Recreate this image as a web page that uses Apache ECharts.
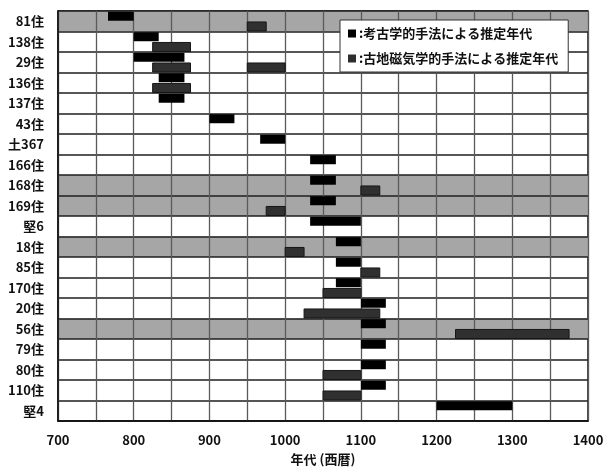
<!DOCTYPE html>
<html>
<head>
<meta charset="utf-8">
<script src="https://cdn.jsdelivr.net/npm/echarts@6/dist/echarts.min.js"></script>
<style>
  html, body { margin: 0; padding: 0; background: #fff; }
  #chart { width: 604px; height: 468px; }
</style>
</head>
<body>
<div id="chart"></div>
<script>
// Dwelling / feature names, top to bottom
const sites = ['81住','138住','29住','136住','137住','43住','土367','166住','168住','169住','堅6','18住','85住','170住','20住','56住','79住','80住','110住','堅4'];

// Rows highlighted with a grey band
const shadedSites = ['81住','168住','169住','18住','56住'];

// Archaeological date ranges (one per site)
const archStart = [766, 800, 800, 833, 833, 900, 967, 1033, 1033, 1033, 1033, 1067, 1067, 1067, 1100, 1100, 1100, 1100, 1100, 1200];
const archEnd   = [800, 833, 867, 867, 867, 933, 1000, 1067, 1067, 1067, 1100, 1100, 1100, 1100, 1133, 1133, 1133, 1133, 1133, 1300];

// Archaeomagnetic date ranges (some sites have none, one has two)
const paleoSite  = ['81住','138住','29住','29住','136住','168住','169住','18住','85住','170住','20住','56住','80住','110住'];
const paleoStart = [950, 825, 825, 950, 825, 1100, 975, 1000, 1100, 1050, 1025, 1225, 1050, 1050];
const paleoEnd   = [975, 875, 875, 1000, 875, 1125, 1000, 1025, 1125, 1100, 1125, 1375, 1100, 1100];

// X axis tick labels
const yearLabels = [700, 800, 900, 1000, 1100, 1200, 1300, 1400];

const nameArch = '考古学的手法による推定年代';
const nameMag = '古地磁気学的手法による推定年代';
const FONT = '"Noto Sans CJK JP", "Noto Sans", sans-serif';

const archData = sites.map((s, i) => [i, archStart[i], archEnd[i]]);
const paleoData = paleoSite.map((s, i) => [sites.indexOf(s), paleoStart[i], paleoEnd[i]]);
// one fill per category band: grey for highlighted rows, clear otherwise
const bandColors = sites.map(s => (shadedSites.indexOf(s) >= 0 ? '#a6a6a6' : 'rgba(255,255,255,0)'));

// Draws a horizontal range inside a fraction [f0, f1] of the category band
function rangeRenderer(f0, f1, style) {
  return function (params, api) {
    const row = api.value(0);
    const a = api.coord([api.value(1), row]);
    const b = api.coord([api.value(2), row]);
    const h = api.size([0, 1])[1];
    const top = a[1] - h / 2;
    return {
      type: 'rect',
      shape: { x: a[0], y: top + h * f0, width: b[0] - a[0], height: h * (f1 - f0) },
      style: style
    };
  };
}

const chart = echarts.init(document.getElementById('chart'), null, { renderer: 'canvas' });

chart.setOption({
  animation: false,
  backgroundColor: '#fff',
  textStyle: { fontFamily: FONT },
  grid: {
    left: 58, right: 16, top: 11, bottom: 47,
    outerBoundsMode: 'none',
    containLabel: false,
    show: true, borderColor: '#111', borderWidth: 1.5, backgroundColor: 'transparent'
  },
  legend: {
    orient: 'vertical',
    left: 340, top: 20,
    backgroundColor: '#fff',
    borderColor: '#333', borderWidth: 1,
    padding: [7, 10, 7, 8],
    itemGap: 12,
    itemWidth: 8, itemHeight: 8,
    selectedMode: false,
    formatter: n => ':' + n,
    textStyle: { fontFamily: FONT, fontSize: 13, fontWeight: 'bold', color: '#111', padding: [0, 0, 0, -2] },
    data: [
      { name: nameArch, icon: 'rect', itemStyle: { color: '#000' } },
      { name: nameMag, icon: 'rect', itemStyle: { color: '#2e2e2e' } }
    ]
  },
  xAxis: {
    type: 'value',
    min: 700, max: 1400, interval: 50,
    axisLine: { show: true, lineStyle: { color: '#111', width: 1.5 } },
    axisTick: { show: false },
    axisLabel: {
      formatter: v => (yearLabels.indexOf(v) >= 0 ? String(v) : ''),
      color: '#111', fontFamily: FONT, fontSize: 13, fontWeight: 'bold', margin: 13
    },
    splitLine: { show: true, lineStyle: { color: '#5a5a5a', width: 1.3 } },
    name: '年代 (西暦)',
    nameLocation: 'middle',
    nameGap: 32,
    nameTextStyle: { color: '#111', fontFamily: FONT, fontSize: 13, fontWeight: 'bold' }
  },
  yAxis: {
    type: 'category',
    data: sites,
    inverse: true,
    axisLine: { show: true, lineStyle: { color: '#111', width: 1.5 } },
    axisTick: { show: false },
    axisLabel: {
      interval: 0, margin: 14,
      color: '#111', fontFamily: FONT, fontSize: 13, fontWeight: 'bold',
      padding: [0, 0, 9, 0]
    },
    splitArea: { show: true, interval: 0, areaStyle: { color: bandColors } },
    splitLine: { show: true, interval: 0, lineStyle: { color: '#1e1e1e', width: 1.5 } }
  },
  series: [
    {
      name: nameArch,
      type: 'custom',
      itemStyle: { color: '#000' },
      renderItem: rangeRenderer(0.035, 0.475, { fill: '#000' }),
      encode: { x: [1, 2], y: 0 },
      data: archData
    },
    {
      name: nameMag,
      type: 'custom',
      itemStyle: { color: '#2e2e2e' },
      renderItem: rangeRenderer(0.535, 0.975, { fill: '#303030', stroke: '#161616', lineWidth: 1 }),
      encode: { x: [1, 2], y: 0 },
      data: paleoData
    }
  ]
});
</script>
</body>
</html>
